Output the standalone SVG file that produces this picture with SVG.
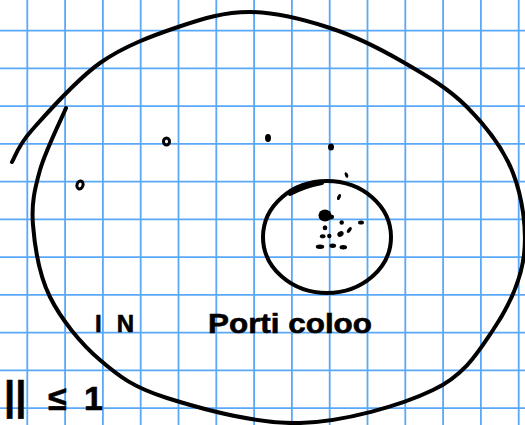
<svg xmlns="http://www.w3.org/2000/svg" width="525" height="425" viewBox="0 0 525 425">
<style>
.grid line{stroke:#5aa8f8;stroke-width:1.8}
.ink{fill:none;stroke:#000;stroke-width:4;stroke-linecap:round;stroke-linejoin:round}
.dot{fill:#000}
.loop{fill:none;stroke:#000;stroke-width:3}
.hand{font-family:"Liberation Sans","DejaVu Sans",sans-serif;font-weight:bold;fill:#000;stroke:#000;stroke-width:0.6}
</style>
<rect width="525" height="425" fill="#fff"/>
<g class="grid" id="grid">
<line x1="27.3" y1="0" x2="27.3" y2="425"/>
<line x1="65.1" y1="0" x2="65.1" y2="425"/>
<line x1="102.9" y1="0" x2="102.9" y2="425"/>
<line x1="140.7" y1="0" x2="140.7" y2="425"/>
<line x1="178.5" y1="0" x2="178.5" y2="425"/>
<line x1="216.3" y1="0" x2="216.3" y2="425"/>
<line x1="254.1" y1="0" x2="254.1" y2="425"/>
<line x1="291.9" y1="0" x2="291.9" y2="425"/>
<line x1="329.7" y1="0" x2="329.7" y2="425"/>
<line x1="367.5" y1="0" x2="367.5" y2="425"/>
<line x1="405.3" y1="0" x2="405.3" y2="425"/>
<line x1="443.1" y1="0" x2="443.1" y2="425"/>
<line x1="480.9" y1="0" x2="480.9" y2="425"/>
<line x1="518.7" y1="0" x2="518.7" y2="425"/>
<line x1="0" y1="30.7" x2="525" y2="30.7"/>
<line x1="0" y1="68.45" x2="525" y2="68.45"/>
<line x1="0" y1="106.2" x2="525" y2="106.2"/>
<line x1="0" y1="143.95" x2="525" y2="143.95"/>
<line x1="0" y1="181.7" x2="525" y2="181.7"/>
<line x1="0" y1="219.45" x2="525" y2="219.45"/>
<line x1="0" y1="257.2" x2="525" y2="257.2"/>
<line x1="0" y1="294.95" x2="525" y2="294.95"/>
<line x1="0" y1="332.7" x2="525" y2="332.7"/>
<line x1="0" y1="370.45" x2="525" y2="370.45"/>
<line x1="0" y1="408.2" x2="525" y2="408.2"/>
</g>
<g id="outer">
<path class="ink" d="M66 108 C61.7 118.3 45.5 150.5 40 170 C34.5 189.5 31.3 203.8 33 225 C34.7 246.2 38.8 274.5 50 297 C61.2 319.5 80.5 343.2 100 360 C119.5 376.8 133.7 387.5 167 398 C200.3 408.5 255.7 424.3 300 423 C344.3 421.7 400.8 405.5 433 390 C465.2 374.5 477.8 352.5 493 330 C508.2 307.5 520.7 281.2 524 255 C527 228.8 522.5 197.7 513 173 C503.5 148.3 485.3 125.5 467 107 C448.7 88.5 425.8 75.2 403 62 C380.2 48.8 355.5 36.3 330 28 C304.5 19.7 275.3 12.2 250 12 C224.7 11.8 203 18.5 178 27 C153 35.5 124.3 45.8 100 63 C75.7 80.2 46.7 113.5 32 130 C17.3 146.5 15.3 156.7 12 162"/>
</g>
<g id="inner">
<ellipse class="ink" cx="327" cy="237" rx="64" ry="56"/>
<path class="ink" d="M290 194 Q305 186 322 183"/>
</g>
<g id="points">
<ellipse class="loop" cx="80" cy="185" rx="3" ry="4" transform="rotate(20 80 185)"/>
<ellipse class="loop" cx="166.5" cy="141.5" rx="3" ry="3.6"/>
<ellipse class="dot" cx="268" cy="138" rx="3" ry="4"/>
<ellipse class="dot" cx="331" cy="147" rx="3" ry="3.5"/>
<ellipse class="dot" cx="346.5" cy="175" rx="1.6" ry="3" transform="rotate(-25 346.5 175)"/>
<ellipse class="dot" cx="339" cy="197" rx="1.7" ry="3.2" transform="rotate(20 339 197)"/>
<ellipse class="dot" cx="325" cy="215.5" rx="6.5" ry="6"/>
<ellipse class="dot" cx="330.5" cy="217" rx="3.5" ry="2.4"/>
<circle class="dot" cx="341.7" cy="222.5" r="2.2"/>
<ellipse class="dot" cx="361" cy="222.5" rx="3" ry="2"/>
<ellipse class="dot" cx="349.3" cy="230" rx="1.8" ry="3.3" transform="rotate(35 349.3 230)"/>
<ellipse class="dot" cx="325" cy="227.7" rx="2.3" ry="2.5"/>
<ellipse class="dot" cx="322.7" cy="236.3" rx="2.8" ry="2"/>
<circle class="dot" cx="329.3" cy="236" r="2.2"/>
<ellipse class="dot" cx="340.5" cy="234" rx="3.3" ry="2.6" transform="rotate(-30 340.5 234)"/>
<ellipse class="dot" cx="320" cy="246.7" rx="4.2" ry="2.2"/>
<ellipse class="dot" cx="332.7" cy="245.7" rx="3.3" ry="2.2"/>
<ellipse class="dot" cx="343.3" cy="247.3" rx="3.7" ry="2.2"/>
</g>
<g id="labels">
<text class="hand" x="95" y="332" font-size="24" textLength="39" lengthAdjust="spacing">I N</text>
<text class="hand" x="208" y="333" font-size="28" textLength="164" lengthAdjust="spacingAndGlyphs">Porti coloo</text>
<text class="hand" y="410" font-size="34"><tspan x="4" font-size="40">|| </tspan><tspan x="48">≤ </tspan><tspan x="84">1</tspan></text>
</g>
</svg>
